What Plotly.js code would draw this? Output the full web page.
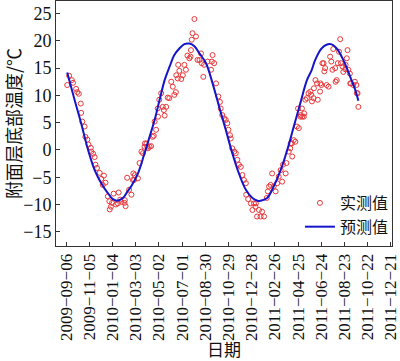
<!DOCTYPE html>
<html>
<head>
<meta charset="utf-8">
<script src="https://cdn.plot.ly/plotly-3.0.1.min.js"></script>
<style>html,body{margin:0;padding:0;background:#fff;}#chart{width:400px;height:361px;}</style>
</head>
<body>
<div id="chart"></div>
<script>
// x = day index counted from 2009-09-06
const tickDays = [0, 60, 120, 180, 240, 300, 360, 420, 480, 540, 600, 660, 720, 780, 840];
const tickLabels = ["2009−09−06","2009−11−05","2010−01−04","2010−03−03","2010−05−02","2010−07−01","2010−08−30","2010−10−29","2010−12−28","2011−02−26","2011−04−25","2011−06−24","2011−08−23","2011−10−22","2011−12−21"];

const obsDay = [3,8,15,18,26,29,33,38,39,42,48,50,55,58,64,65,70,74,76,80,87,91,95,98,102,108,112,113,116,119,123,129,134,136,140,143,151,152,154,158,163,169,173,174,176,178,186,190,195,199,203,204,208,210,212,216,220,224,227,229,233,237,238,241,246,250,253,255,259,263,267,272,276,280,284,285,289,290,293,298,302,306,310,314,319,322,323,325,327,332,336,340,345,349,351,355,357,366,375,377,379,383,388,394,398,400,404,409,413,417,420,424,426,430,435,439,443,447,452,456,460,465,466,471,478,482,486,490,491,494,499,503,507,512,519,522,525,529,533,537,542,546,550,555,559,561,568,570,576,580,581,584,585,589,593,597,600,602,606,607,610,611,615,616,619,623,627,632,634,636,640,641,645,649,651,657,658,660,663,666,668,670,674,679,683,686,689,691,696,697,700,703,706,709,711,715,717,722,723,726,728,730,734,735,737,743,747,751,752,754,756];
const obsTemp = [11.9,13.6,12.8,12.3,11.2,10.6,10.3,8.5,6.8,5.2,4.3,2.4,1.9,1.0,0.4,-0.3,-0.7,-1.3,-2.7,-3.3,-4.2,-5.3,-6.4,-4.7,-6.0,-8.5,-9.4,-10.9,-10.4,-9.7,-8.0,-10.0,-9.8,-7.8,-9.1,-9.5,-9.7,-9.2,-10.3,-5.1,-7.3,-8.2,-5.5,-4.3,-5.5,-4.6,-5.2,-2.4,-0.3,-0.6,0.6,1.2,1.2,0.6,0.3,0.6,0.7,2.4,2.6,5.2,3.7,7.6,6.1,9.2,10.4,7.9,7.3,6.3,7.9,9.6,9.5,12.5,11.6,10.1,10.6,13.7,13.1,15.6,14.5,13.0,13.7,15.6,14.7,17.3,16.8,17.1,18.3,20.2,21.4,24.0,20.8,16.5,16.5,17.7,15.9,13.4,15.6,16.2,14.7,16.2,17.4,15.9,12.2,9.8,8.8,7.6,6.4,5.8,5.5,4.9,3.7,2.7,2.1,0.3,-0.3,-0.6,-1.8,-2.7,-3.1,-4.6,-5.5,-6.1,-8.2,-9.0,-9.8,-11.0,-9.8,-10.4,-9.8,-12.2,-11.0,-12.2,-11.3,-12.2,-8.8,-7.6,-6.7,-6.4,-4.3,-6.7,-7.6,-6.1,-4.9,-3.7,-5.8,-2.7,-4.3,-2.4,-0.3,0.3,1.2,1.2,-1.2,1.8,1.5,4.3,7.6,4.0,6.1,6.4,7.6,6.1,6.1,6.7,9.2,9.5,10.4,10.7,10.1,8.9,9.5,11.3,12.8,12.2,9.2,10.7,12.2,11.9,15.9,15.9,14.4,15.0,11.9,11.6,17.1,16.2,14.7,18.5,15.0,12.5,12.8,15.9,18.0,20.3,15.9,15.3,14.3,14.8,15.6,16.8,18.3,14.7,14.0,12.2,12.2,11.9,12.5,11.9,10.4,10.4,7.9];

const predDay = [3,22,39,57,74,91,108,121,132,147,159,169,186,203,216,229,242,255,268,280,293,306,319,332,345,362,379,396,413,430,447,465,482,495,503,520,537,555,572,589,606,623,635,645,662,683,700,717,735,748,756];
const predTemp = [14.2,9.2,4.9,0.0,-3.7,-6.1,-7.9,-9.0,-9.3,-8.8,-7.6,-6.6,-4.3,-0.6,2.4,5.5,9.2,12.8,15.3,17.4,18.6,19.4,19.5,19.0,17.7,15.9,12.2,7.9,3.7,-0.6,-4.3,-7.3,-8.8,-9.3,-9.3,-8.8,-6.7,-3.7,0.0,4.3,8.6,12.8,14.6,16.6,18.7,19.4,18.6,16.5,13.4,11.0,9.0];

const serif = '"Liberation Serif", "Times New Roman", serif';
const cjk = '"Noto Sans CJK SC", sans-serif';

const traces = [
  {
    x: obsDay, y: obsTemp, type: 'scatter', mode: 'markers', name: '实测值',
    marker: {symbol: 'circle-open', size: 5, color: '#e8383a', line: {width: 1, color: '#e8383a'}}
  },
  {
    x: predDay, y: predTemp, type: 'scatter', mode: 'lines', name: '预测值',
    line: {color: '#1414c8', width: 2, shape: 'spline', smoothing: 1}
  }
];

const layout = {
  width: 400, height: 361,
  margin: {l: 56, r: 8, t: 1, b: 115},
  paper_bgcolor: '#fff', plot_bgcolor: '#fff',
  showlegend: true,
  legend: {x: 0.726, xanchor: 'left', y: 0.245, yanchor: 'top', bgcolor: 'rgba(0,0,0,0)',
           font: {family: cjk, size: 16, color: '#111'}, tracegroupgap: 0},
  xaxis: {
    range: [-26, 843], tickmode: 'array', tickvals: tickDays, ticktext: tickLabels,
    tickangle: -90, ticks: 'inside', ticklen: 4, tickcolor: '#333',
    ticklabeloverflow: 'allow',
    showline: true, mirror: true, linecolor: '#333', linewidth: 1,
    showgrid: false, zeroline: false,
    tickfont: {family: serif, size: 17, color: '#111'},
    title: {text: '日期', font: {family: cjk, size: 17, color: '#111'}, standoff: 4}
  },
  yaxis: {
    range: [-17.6, 27.3], dtick: 5, tick0: 0,
    ticks: 'inside', ticklen: 4, tickcolor: '#333',
    showline: true, mirror: true, linecolor: '#333', linewidth: 1,
    showgrid: false, zeroline: false,
    tickfont: {family: serif, size: 18, color: '#111'},
    title: {text: '附面层底部温度/℃', font: {family: cjk, size: 18, color: '#111'}, standoff: 4}
  }
};

Plotly.newPlot('chart', traces, layout, {displayModeBar: false, staticPlot: true});
</script>
</body>
</html>
